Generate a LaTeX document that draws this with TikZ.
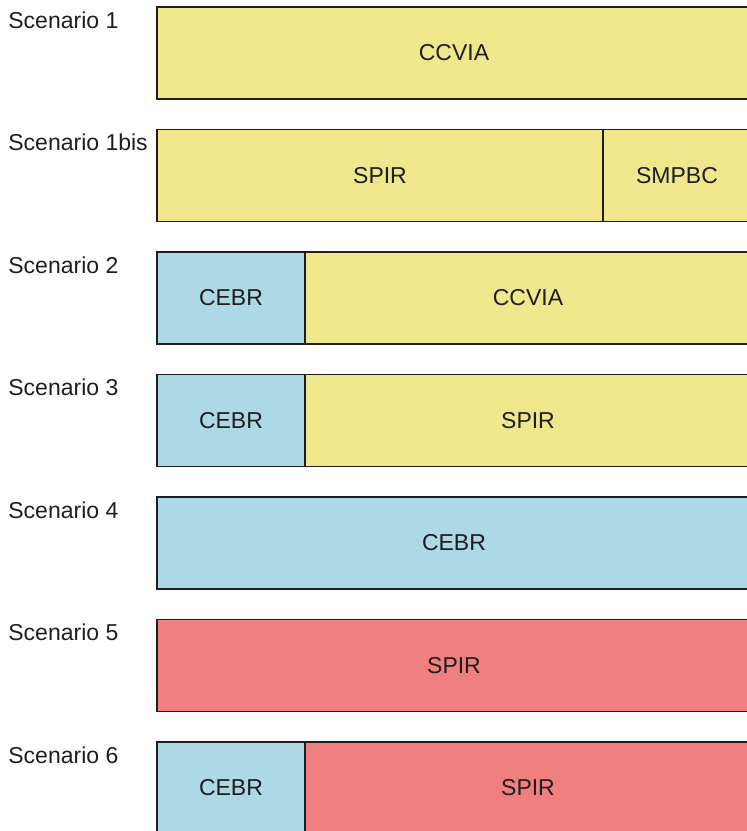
\documentclass[tikz,border=0pt]{standalone}
\usepackage{fontspec}
\setsansfont{Liberation Sans}
\usepackage{tikz}
\usetikzlibrary{positioning}
\usepackage{xcolor}
\definecolor{khakibox}{RGB}{240,230,140}
\definecolor{bluebox}{RGB}{173,216,230}
\definecolor{redbox}{RGB}{240,128,128}
\definecolor{inkgrey}{RGB}{30,30,30}

\begin{document}
\begin{tikzpicture}[
  x=0.5pt, y=-0.5pt,
  seg/.style={rectangle, draw=inkgrey, line width=0.8pt, inner sep=0pt,
    minimum height=46pt, font=\sffamily\fontsize{11.5}{14}\selectfont,
    text=inkgrey},
  lab/.style={anchor=base west, inner sep=0pt,
    font=\sffamily\fontsize{11.5}{14}\selectfont, text=inkgrey}
]
  \useasboundingbox (0,0) rectangle (747,831);
  \clip (0,0) rectangle (747,831);

  % Row labels
  \foreach \r/\name in {
    0/Scenario 1,
    1/Scenario 1bis,
    2/Scenario 2,
    3/Scenario 3,
    4/Scenario 4,
    5/Scenario 5,
    6/Scenario 6
  }{
    \pgfmathsetmacro\ytop{7 + 122.5*\r}
    \node[lab] (L\r) at (8, \ytop + 21) {\name};
  }

  % Segments: name/row/left/right/colour/text
  \foreach \id/\r/\xa/\xb/\col/\txt in {
    A1/0/157/751/khakibox/CCVIA,
    B1/1/157/603/khakibox/SPIR,
    B2/1/603/751/khakibox/SMPBC,
    C1/2/157/305/bluebox/CEBR,
    C2/2/305/751/khakibox/CCVIA,
    D1/3/157/305/bluebox/CEBR,
    D2/3/305/751/khakibox/SPIR,
    E1/4/157/751/bluebox/CEBR,
    F1/5/157/751/redbox/SPIR,
    G1/6/157/305/bluebox/CEBR,
    G2/6/305/751/redbox/SPIR
  }{
    \pgfmathsetmacro\ytop{7 + 122.5*\r}
    \pgfmathsetmacro\segw{(\xb - \xa)*0.5}
    \node[seg, fill=\col, minimum width=\segw pt]
      (\id) at ({(\xa + \xb)/2}, \ytop + 46) {\txt};
  }
\end{tikzpicture}
\end{document}
